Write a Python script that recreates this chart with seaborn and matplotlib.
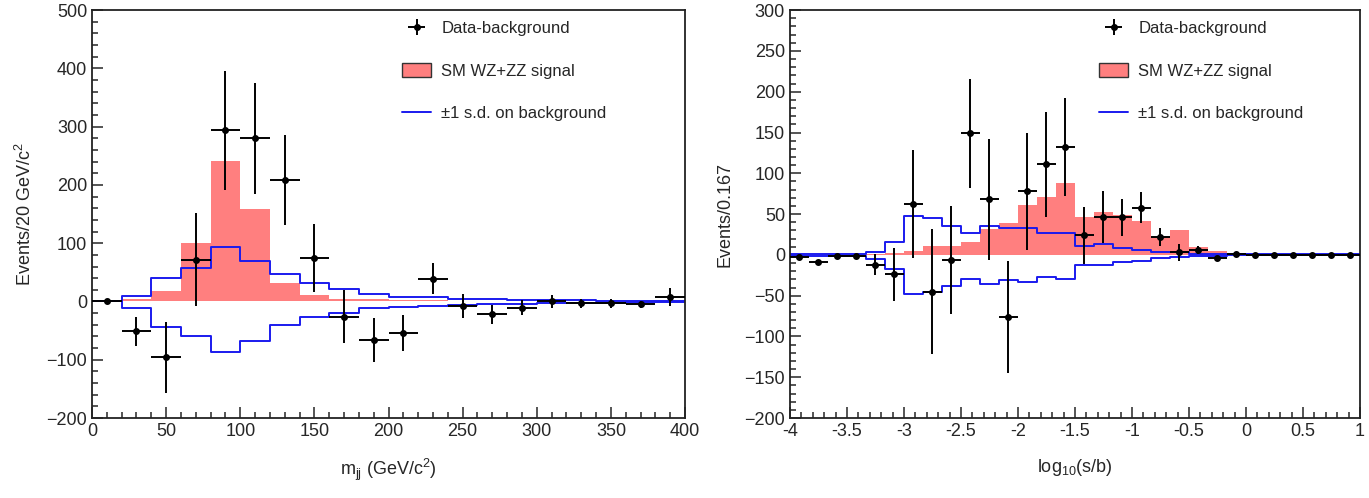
import numpy as np
import pandas as pd
import seaborn as sns
import matplotlib.pyplot as plt
from matplotlib.patches import Patch
from matplotlib.lines import Line2D
from matplotlib.ticker import MultipleLocator

# ---- left panel: m_jj, 20 GeV bins ----
mjj_edges = np.arange(0, 401, 20)
mjj_centers = mjj_edges[:-1] + 10
mjj_data = [0, -51, -96, 72, 294, 280, 208, 75, -26, -66, -54, 39, -8, -22, -11, 0, -3, -3, -5, 8]
mjj_err = [3, 25, 61, 80, 102, 95, 77, 58, 46, 37, 31, 27, 20, 16, 13, 11, 8, 8, 6, 15]
mjj_signal = [0, 4, 18, 100, 241, 158, 31, 11, 5, 4, 3, 2, 1.5, 1, 1, 0.5, 0.5, 0.5, 0.5, 0.5]
mjj_up = [0, 10, 40, 57, 94, 69, 48, 32, 22, 13, 8, 7, 5, 4, 3, 2, 2, 1.5, 1, 1]
mjj_down = [0, -12, -43, -59, -86, -68, -40, -26, -19, -12, -9, -8, -6, -5, -4, -3, -2, -2, -1, -1]

# ---- right panel: log10(s/b), 1/6 bins ----
lsb_edges = np.linspace(-4, 1, 31)
lsb_centers = (lsb_edges[:-1] + lsb_edges[1:]) / 2
lsb_data = [-2, -9, -1, -1, -12, -24, 62, -45, -6, 149, 68, -76, 78, 111, 132,
            24, 46, 46, 58, 22, 3, 6, -4, 1, 0, 0, 0, 0, 0, 0]
lsb_err = [1, 3, 1, 1, 13, 32, 66, 77, 66, 67, 74, 69, 72, 64, 60,
           35, 32, 23, 19, 11, 10, 5, 3, 1, 0.5, 0.5, 0.5, 0.5, 0.5, 0.5]
lsb_signal = [0, 0, 0, 0, 1, 2, 5, 11, 11, 16, 32, 39, 61, 71, 88,
              46, 53, 49, 42, 22, 31, 10, 5, 0, 0, 0, 0, 0, 0, 0]
lsb_up = [1, 1, 1, 1, 4, 16, 48, 45, 35, 27, 35, 33, 33, 27, 27,
          11, 13, 8, 6, 3, 3, 1.5, 1.5, 1, 0.5, 0.5, 0.5, 0.5, 0.5, 0.5]
lsb_down = [-1, -1, -1, -1, -5, -17, -48, -46, -38, -29, -36, -31, -33, -27, -29,
            -12, -13, -9, -7, -4, -3, -1, -1, -0.5, -0.5, -0.5, -0.5, -0.5, -0.5, -0.5]

RED = "#ff7f7f"
BLUE = "#1a1aee"

sns.set_style("ticks")
plt.rcParams['font.family'] = ['Liberation Sans', 'DejaVu Sans']
plt.rcParams['mathtext.fontset'] = 'custom'
plt.rcParams['mathtext.rm'] = 'Liberation Sans'
plt.rcParams['mathtext.it'] = 'Liberation Sans'

fig = plt.figure(figsize=(13.69, 4.98), dpi=100)
ax1 = fig.add_axes([0.0672, 0.1606, 0.4332, 0.819])
ax2 = fig.add_axes([0.577, 0.1606, 0.4164, 0.819])


def draw(ax, edges, centers, data, err, sig, up, down):
    hist = pd.DataFrame({"x": centers, "w": sig})
    sns.histplot(data=hist, x="x", weights="w", bins=list(edges), element="step", fill=True,
                 color=RED, alpha=1, linewidth=0, ax=ax, zorder=1)
    for band in (up, down):
        steps = pd.DataFrame({"x": edges, "y": list(band) + [band[-1]]})
        sns.lineplot(data=steps, x="x", y="y", drawstyle="steps-post",
                     color=BLUE, lw=1.4, ax=ax, zorder=2)
    half = (edges[1] - edges[0]) / 2
    cont = ax.errorbar(centers, data, yerr=err, xerr=half, fmt="o", color="black",
                       ms=4, elinewidth=1.4, capsize=0, zorder=3)
    ax.set_xlim(edges[0], edges[-1])
    for s in ax.spines.values():
        s.set_linewidth(1.3)
        s.set_color("#222222")
    ax.tick_params(which="both", direction="in", top=False, right=False,
                   labelsize=13, width=1.1)
    ax.tick_params(which="major", length=8)
    ax.tick_params(which="minor", length=4)
    handles = [cont, Patch(facecolor=RED, edgecolor="#333333", lw=1),
               Line2D([], [], color=BLUE, lw=1.4)]
    labels = ["Data-background", "SM WZ+ZZ signal", "\u00b11 s.d. on background"]
    return handles, labels


legend_kw = dict(loc="upper left", frameon=False, fontsize=12, labelspacing=1.6,
                 handlelength=1.75, handleheight=0.9, handletextpad=0.6, borderpad=0.2)

h, l = draw(ax1, mjj_edges, mjj_centers, mjj_data, mjj_err, mjj_signal, mjj_up, mjj_down)
ax1.set_ylim(-200, 500)
ax1.xaxis.set_major_locator(MultipleLocator(50))
ax1.xaxis.set_minor_locator(MultipleLocator(10))
ax1.yaxis.set_major_locator(MultipleLocator(100))
ax1.yaxis.set_minor_locator(MultipleLocator(20))
ax1.set_xlabel("m$_{\\rm jj}$ (GeV/c$^{2}$)", fontsize=13, labelpad=12)
ax1.set_ylabel("Events/20 GeV/c$^{2}$", fontsize=13, labelpad=8)
ax1.legend(h, l, bbox_to_anchor=(0.503, 1.003), **legend_kw)

h, l = draw(ax2, lsb_edges, lsb_centers, lsb_data, lsb_err, lsb_signal, lsb_up, lsb_down)
ax2.set_ylim(-200, 300)
ax2.xaxis.set_major_locator(MultipleLocator(0.5))
ax2.xaxis.set_minor_locator(MultipleLocator(0.1))
ax2.yaxis.set_major_locator(MultipleLocator(50))
ax2.yaxis.set_minor_locator(MultipleLocator(10))
ax2.xaxis.set_major_formatter(lambda v, p: f"{v:g}")
ax2.set_xlabel("log$_{10}$(s/b)", fontsize=13, labelpad=12)
ax2.set_ylabel("Events/0.167", fontsize=13, labelpad=8)
ax2.legend(h, l, bbox_to_anchor=(0.522, 1.003), **legend_kw)

fig.savefig("out.png", dpi=100)
